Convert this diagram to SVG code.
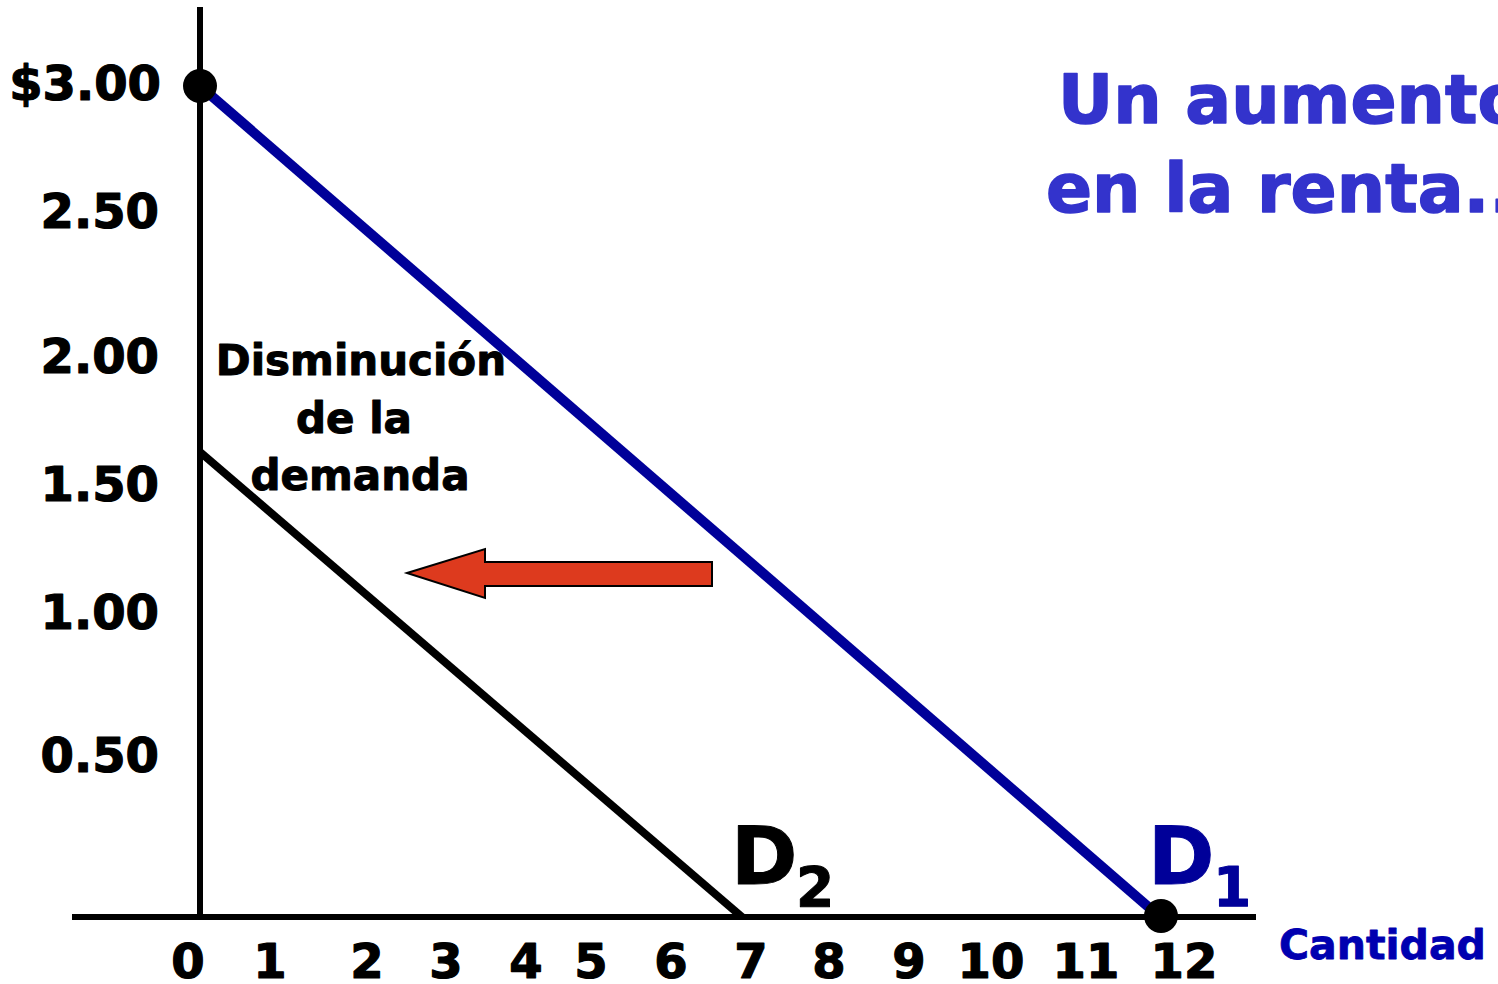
<svg xmlns="http://www.w3.org/2000/svg" width="1498" height="984" viewBox="0 0 1498 984">
<style>
text{font-family:"DejaVu Sans","Verdana",sans-serif;font-weight:bold;stroke-linejoin:round}
.yl{font-size:48px;fill:#000;stroke:#000;stroke-width:1.2;text-anchor:end}
.xl{font-size:48px;fill:#000;stroke:#000;stroke-width:1.2;text-anchor:middle}
.ann{font-size:42px;fill:#000;stroke:#000;stroke-width:1;text-anchor:middle}
.title{font-size:68px;fill:#3333CC;stroke:#3333CC;stroke-width:1.5}
.big{font-size:80px}
.sub{font-size:55px}
</style>
<rect width="1498" height="984" fill="#fff"/>
<g id="axes">
<line x1="200" y1="7" x2="200" y2="920" stroke="#000" stroke-width="6"/>
<line x1="72" y1="917" x2="1256" y2="917" stroke="#000" stroke-width="6"/>
</g>
<g id="connectors">
<line id="D1-curve" x1="200" y1="86" x2="1160" y2="917" stroke="#000099" stroke-width="10"/>
<line id="D2-curve" x1="200" y1="452" x2="742" y2="917" stroke="#000" stroke-width="8"/>
<polygon id="shift-arrow" points="407,573 485,549 485,562 712,562 712,586 485,586 485,598" fill="#DD3A1E" stroke="#000" stroke-width="2"/>
</g>
<g id="points">
<circle cx="200" cy="86" r="17" fill="#000"/>
<circle cx="1161" cy="916" r="17" fill="#000"/>
</g>
<g id="y-labels">
<text class="yl" x="161" y="100">$3.00</text>
<text class="yl" x="159" y="228">2.50</text>
<text class="yl" x="159" y="373">2.00</text>
<text class="yl" x="159" y="501">1.50</text>
<text class="yl" x="159" y="629">1.00</text>
<text class="yl" x="159" y="772">0.50</text>
</g>
<g id="x-labels">
<text class="xl" x="188" y="978">0</text>
<text class="xl" x="270" y="978">1</text>
<text class="xl" x="367" y="978">2</text>
<text class="xl" x="446" y="978">3</text>
<text class="xl" x="526" y="978">4</text>
<text class="xl" x="591" y="978">5</text>
<text class="xl" x="671" y="978">6</text>
<text class="xl" x="751" y="978">7</text>
<text class="xl" x="829" y="978">8</text>
<text class="xl" x="909" y="978">9</text>
<text class="xl" x="991" y="978">10</text>
<text class="xl" x="1086" y="978">11</text>
<text class="xl" x="1184" y="978">12</text>
<text x="1279" y="959" font-size="41" fill="#0000B0" stroke="#0000B0" stroke-width="0.8">Cantidad</text>
</g>
<g id="annotation">
<text class="ann" x="361" y="375">Disminución</text>
<text class="ann" x="354" y="433">de la</text>
<text class="ann" x="360" y="490">demanda</text>
</g>
<g id="D1-label">
<text x="1148" y="884" class="big" fill="#000099" stroke="#000099" stroke-width="1">D</text>
<text x="1213" y="906" class="sub" fill="#000099" stroke="#000099" stroke-width="1">1</text>
</g>
<g id="D2-label">
<text x="731" y="884" class="big" fill="#000" stroke="#000" stroke-width="1">D</text>
<text x="796" y="906" class="sub" fill="#000" stroke="#000" stroke-width="1">2</text>
</g>
<g id="title">
<text class="title" x="1058" y="123">Un aumento</text>
<text class="title" x="1046" y="212">en la renta..</text>
</g>
</svg>
